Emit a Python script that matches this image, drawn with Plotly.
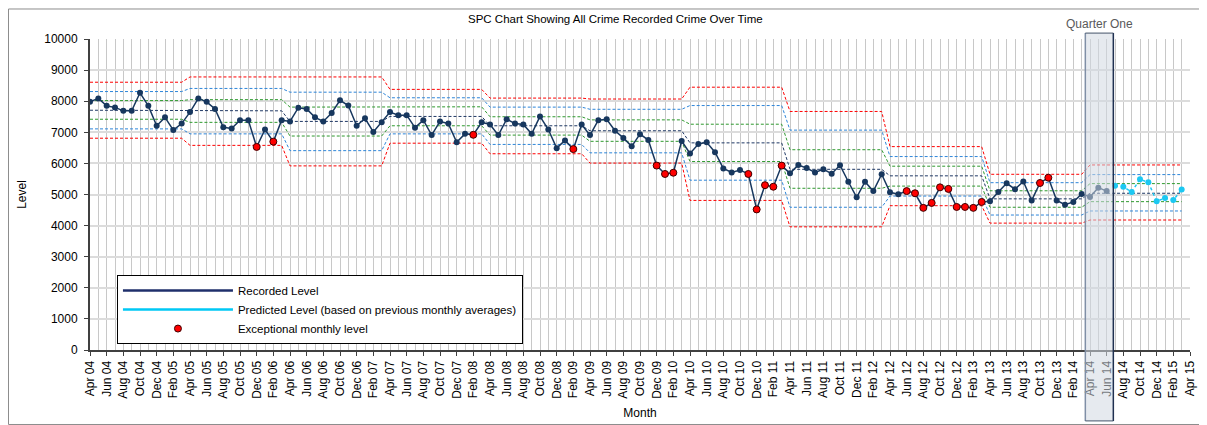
import pandas as pd
import plotly.graph_objects as go

# monthly recorded crime, Apr 04 - Jun 14
recorded = [7980, 8090, 7850, 7800, 7690, 7690, 8270, 7850, 7210, 7480, 7070, 7280,
            7650, 8090, 7980, 7750, 7160, 7120, 7390, 7390, 6530, 7090, 6700, 7390,
            7350, 7790, 7750, 7480, 7350, 7620, 8030, 7860, 7210, 7450, 7010, 7320,
            7650, 7550, 7550, 7150, 7390, 6910, 7350, 7280, 6680, 6950, 6920, 7320,
            7250, 6910, 7420, 7280, 7250, 6950, 7510, 7090, 6490, 6740, 6460, 7250,
            6910, 7390, 7420, 7050, 6820, 6550, 6940, 6750, 5930, 5660, 5700, 6720,
            6320, 6620, 6680, 6360, 5840, 5710, 5790, 5660, 4520, 5300, 5250, 5930,
            5680, 5950, 5850, 5710, 5810, 5670, 5940, 5410, 4910, 5410, 5110, 5650,
            5070, 5010, 5110, 5040, 4570, 4730, 5230, 5180, 4600, 4600, 4570, 4760,
            4780, 5080, 5360, 5170, 5420, 4810, 5370, 5540, 4810, 4670, 4760, 5020,
            4920, 5220, 5110]

# predicted level, Jul 14 - Mar 15
predicted = [5280, 5250, 5080, 5490, 5390, 4780, 4890, 4820, 5160]

# month indexes (from Apr 04) flagged as exceptional
exceptional = [20, 22, 46, 58, 68, 69, 70, 79, 80, 81, 82, 83,
               98, 99, 100, 101, 102, 103, 104, 105, 106, 107, 114, 115]

# control levels per financial year 04/05 .. 14/15
ucl3 = [8610, 8780, 8780, 8380, 8100, 8070, 8450, 7670, 6540, 5650, 5950]
ucl2 = [8310, 8410, 8290, 8110, 7810, 7740, 7860, 7070, 6220, 5380, 5640]
ucl1 = [8020, 8050, 7810, 7820, 7500, 7400, 7260, 6440, 5910, 5120, 5350]
mean = [7710, 7690, 7350, 7510, 7210, 7050, 6660, 5810, 5600, 4860, 5040]
lcl1 = [7420, 7320, 6880, 7210, 6910, 6710, 6060, 5200, 5270, 4590, 4770]
lcl2 = [7110, 6950, 6410, 6950, 6610, 6340, 5460, 4590, 4950, 4340, 4470]
lcl3 = [6810, 6580, 5920, 6650, 6310, 6010, 4810, 3960, 4640, 4080, 4180]

months = pd.date_range('2004-04-01', '2015-04-01', freq='MS')
month_labels = [d.strftime('%b %y') for d in months]
n_months = 132

FONT = 'Liberation Sans, Arial, sans-serif'
NAVY = '#17375E'
CYAN = '#1CC8F2'

fig = go.Figure()

idx = list(range(n_months))
levels = [(ucl3, '#FF0000'), (ucl2, '#2E86D9'), (ucl1, '#2F9A2F'), (mean, '#1F3864'),
          (lcl1, '#2F9A2F'), (lcl2, '#2E86D9'), (lcl3, '#FF0000')]
for vals, col in levels:
    fig.add_trace(go.Scatter(
        x=idx, y=[vals[i // 12] for i in idx], mode='lines',
        line=dict(color=col, width=1, dash='3px,2px'),
        showlegend=False, hoverinfo='skip'))

fig.add_trace(go.Scatter(
    x=list(range(len(recorded))), y=recorded, mode='lines+markers',
    line=dict(color=NAVY, width=1.5),
    marker=dict(color=NAVY, size=6), showlegend=False))

pred_x = list(range(len(recorded), len(recorded) + len(predicted)))
fig.add_trace(go.Scatter(
    x=pred_x, y=predicted, mode='lines+markers',
    line=dict(color=CYAN, width=1.5, dash='dot'),
    marker=dict(color=CYAN, size=6), showlegend=False))

fig.add_trace(go.Scatter(
    x=exceptional, y=[recorded[i] for i in exceptional], mode='markers',
    marker=dict(color='#FF0000', size=7, line=dict(color='#400000', width=1)),
    showlegend=False))

# legend entries (plain line symbols, as in the original)
fig.add_trace(go.Scatter(x=[None], y=[None], mode='lines', name='Recorded Level',
                         line=dict(color='#1F2F6B', width=2.5)))
fig.add_trace(go.Scatter(x=[None], y=[None], mode='lines',
                         name='Predicted Level (based on previous monthly averages)',
                         line=dict(color='#00C8F5', width=2.5)))
fig.add_trace(go.Scatter(x=[None], y=[None], mode='markers', name='Exceptional monthly level',
                         marker=dict(color='#FF0000', size=7, line=dict(color='#400000', width=1))))

# chart area border (page body offsets the figure by 8px)
fig.add_shape(type='rect', xref='paper', yref='paper', x0=-0.0741, x1=1.0150, y0=-0.2395, y1=1.0965,
              line=dict(color='#8C8C8C', width=1), layer='below')

# quarter one highlight
q0, q1, b0, b1 = 119.44, 122.8, -0.228, 1.019
fig.add_shape(type='rect', xref='x', yref='paper', x0=q0, x1=q1, y0=b0, y1=b1,
              fillcolor='rgba(210,217,226,0.55)', line=dict(width=0), layer='above')
fig.add_shape(type='line', xref='x', yref='paper', x0=q0, x1=q0, y0=b0, y1=b1,
              line=dict(color='#7F8FA6', width=1.5), layer='above')
fig.add_shape(type='line', xref='x', yref='paper', x0=q1, x1=q1, y0=b0, y1=b1,
              line=dict(color='#1F3050', width=1.5), layer='above')
fig.add_shape(type='line', xref='x', yref='paper', x0=q0, x1=q1, y0=b1, y1=b1,
              line=dict(color='#44546A', width=1), layer='above')
fig.add_shape(type='line', xref='x', yref='paper', x0=q0, x1=q1, y0=b0, y1=b0,
              line=dict(color='#44546A', width=1), layer='above')
fig.add_annotation(x=121.1, xref='x', y=(350 - 33) / 311, yref='paper', yanchor='bottom',
                   text='Quarter One', showarrow=False,
                   font=dict(family=FONT, size=12, color='#595959'))

fig.add_annotation(x=0.478, xref='paper', y=(350 - 19) / 311, yref='paper', yanchor='middle',
                   text='SPC Chart Showing All Crime Recorded Crime Over Time',
                   showarrow=False, font=dict(family=FONT, size=11.5, color='#000000'))

tick_idx = list(range(0, n_months + 1, 2))
fig.update_xaxes(
    range=[0, 132], tickmode='array', tickvals=tick_idx,
    ticktext=[month_labels[i] for i in tick_idx], tickangle=-90,
    tickfont=dict(family=FONT, size=12, color='#000000'),
    showgrid=True, gridcolor='#C8C8C8', gridwidth=1,
    minor=dict(tickmode='linear', tick0=0, dtick=1, showgrid=True, gridcolor='#C8C8C8', gridwidth=1),
    showline=True, linecolor='#404040', linewidth=2,
    ticks='outside', ticklen=4, tickcolor='#404040',
    title=dict(text='Month', font=dict(family=FONT, size=12, color='#000000'), standoff=11),
    zeroline=False, automargin=False)
fig.update_yaxes(
    range=[0, 10000], dtick=1000, tickformat='d',
    tickfont=dict(family=FONT, size=12, color='#000000'),
    showgrid=True, gridcolor='#DCDCDC', gridwidth=1.5,
    showline=True, linecolor='#404040', linewidth=2,
    ticks='outside', ticklen=4, tickcolor='#404040', ticklabelstandoff=4,
    title=dict(text='Level', font=dict(family=FONT, size=12, color='#000000'), standoff=15),
    zeroline=False, automargin=False)

fig.update_layout(
    width=1199, height=417,
    margin=dict(l=82, r=17, t=31, b=75),
    plot_bgcolor='#FFFFFF', paper_bgcolor='#FFFFFF',
    font=dict(family=FONT, size=12, color='#000000'),
    showlegend=True,
    legend=dict(x=0.0245, y=0.241, xanchor='left', yanchor='top',
                bgcolor='#FFFFFF', bordercolor='#000000', borderwidth=1,
                font=dict(family=FONT, size=11.5), itemwidth=110,
                tracegroupgap=0))

fig.write_html("out.html")
